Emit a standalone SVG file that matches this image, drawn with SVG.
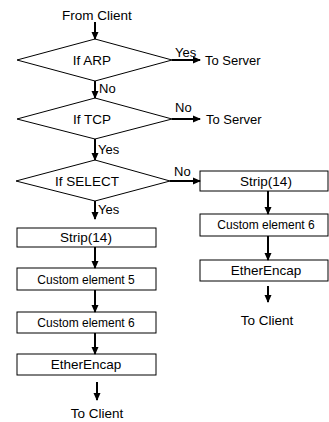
<svg xmlns="http://www.w3.org/2000/svg" width="329" height="422" viewBox="0 0 329 422">
<defs>
<marker id="ah" markerWidth="8" markerHeight="8" refX="7" refY="4" orient="auto" markerUnits="userSpaceOnUse">
<path d="M0,0.5 L8,4 L0,7.5 Z" fill="#000"/>
</marker>
<style>
.shape{fill:#fff;stroke:#000;stroke-width:1}
.conn{stroke:#000;stroke-width:2;fill:none;marker-end:url(#ah)}
text{font-family:"Liberation Sans",Arial,sans-serif;fill:#000}
.t{font-size:13.5px;text-anchor:middle}
.s{font-size:12px;text-anchor:middle}
.l{font-size:13px}
</style>
</defs>
<rect width="329" height="422" fill="#fff"/>
<g id="start"><text class="t" x="97" y="20">From Client</text></g>
<g id="if-arp"><polygon class="shape" points="17,60 95,39 172,60 95,81"/><text class="t" x="92" y="65">If ARP</text></g>
<g id="if-tcp"><polygon class="shape" points="17,119 95,98 172,119 95,139"/><text class="t" x="92" y="124">If TCP</text></g>
<g id="if-select"><polygon class="shape" points="16,181 95,160 170,181 95,201"/><text class="t" x="87" y="186">If SELECT</text></g>
<g id="server1"><text class="l" x="205" y="65" font-size="13.5">To Server</text></g>
<g id="server2"><text class="l" x="206" y="124" font-size="13.5">To Server</text></g>
<g id="strip-l"><rect class="shape" x="17" y="228" width="139" height="19"/><text class="t" x="86" y="242">Strip(14)</text></g>
<g id="custom5-l"><rect class="shape" x="17" y="268" width="139" height="22"/><text class="s" x="86" y="284">Custom element 5</text></g>
<g id="custom6-l"><rect class="shape" x="17" y="312" width="139" height="21"/><text class="s" x="86" y="327">Custom element 6</text></g>
<g id="ether-l"><rect class="shape" x="17" y="354" width="139" height="21"/><text class="t" x="86" y="369">EtherEncap</text></g>
<g id="client-l"><text class="t" x="97" y="418">To Client</text></g>
<g id="strip-r"><rect class="shape" x="200" y="171" width="128" height="20"/><text class="t" x="266" y="186">Strip(14)</text></g>
<g id="custom6-r"><rect class="shape" x="200" y="214" width="128" height="22"/><text class="s" x="266" y="229">Custom element 6</text></g>
<g id="ether-r"><rect class="shape" x="200" y="260" width="128" height="21"/><text class="t" x="266" y="275">EtherEncap</text></g>
<g id="client-r"><text class="t" x="267" y="325">To Client</text></g>
<g id="connectors">
<line class="conn" x1="95" y1="22" x2="95" y2="39"/>
<line class="conn" x1="172" y1="60" x2="200" y2="60"/>
<line class="conn" x1="95" y1="81" x2="95" y2="98"/>
<line class="conn" x1="172" y1="119" x2="200" y2="119"/>
<line class="conn" x1="95" y1="139" x2="95" y2="160"/>
<line class="conn" x1="170" y1="181" x2="200" y2="181"/>
<line class="conn" x1="95" y1="201" x2="95" y2="219"/>
<line class="conn" x1="95" y1="247" x2="95" y2="268"/>
<line class="conn" x1="95" y1="290" x2="95" y2="312"/>
<line class="conn" x1="95" y1="333" x2="95" y2="354"/>
<line class="conn" x1="97" y1="382" x2="97" y2="400"/>
<line class="conn" x1="268" y1="191" x2="268" y2="214"/>
<line class="conn" x1="268" y1="236" x2="268" y2="260"/>
<line class="conn" x1="268" y1="286" x2="268" y2="302"/>
<text class="l" x="175" y="57">Yes</text>
<text class="l" x="99" y="93">No</text>
<text class="l" x="175" y="112">No</text>
<text class="l" x="98" y="154">Yes</text>
<text class="l" x="174" y="176">No</text>
<text class="l" x="98" y="214">Yes</text>
</g>
</svg>
